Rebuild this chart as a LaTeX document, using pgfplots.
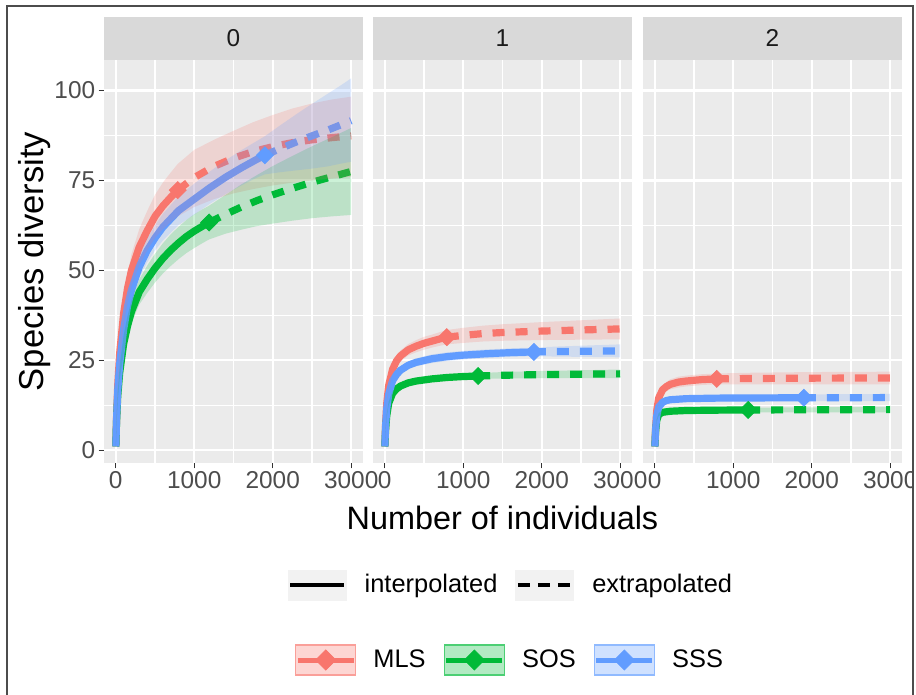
\documentclass[border=0pt]{standalone}
\usepackage{fontspec}
\setmainfont{Liberation Sans}
\usepackage{pgfplots}
\pgfplotsset{compat=1.18}
\definecolor{mls}{HTML}{F8766D}
\definecolor{sos}{HTML}{00BA38}
\definecolor{sss}{HTML}{619CFF}
\definecolor{g92}{HTML}{EBEBEB}
\definecolor{g85}{HTML}{D9D9D9}
\definecolor{g95}{HTML}{F2F2F2}
\definecolor{g30}{HTML}{4D4D4D}
\definecolor{g20}{HTML}{333333}
\definecolor{g10}{HTML}{1A1A1A}
\pgfplotsset{
  panel/.style={
    scale only axis, width=129.5pt, height=201.5pt, anchor=south west,
    xmin=-150, xmax=3150, ymin=-3.6, ymax=108.5,
    axis background/.style={fill=g92},
    axis line style={draw=none},
    xtick={0,1000,2000,3000}, ytick={0,25,50,75,100},
    minor xtick={500,1500,2500}, minor ytick={12.5,37.5,62.5,87.5},
    grid=both,
    major grid style={white, line width=1.1pt},
    minor grid style={white, line width=0.55pt},
    tick align=outside, tick pos=left,
    major tick length=2.7pt, minor tick length=0pt,
    tick style={g20, line width=0.55pt},
    /pgf/number format/assume math mode=true,
    /pgf/number format/1000 sep={},
    ticklabel style={font=\fontsize{12.2}{14}\selectfont, text=g30},
    xticklabel style={inner sep=1.5pt},
    yticklabel style={inner sep=1.5pt},
    every axis title/.style={at={(0.5,1)}, anchor=south, fill=g85,
      minimum width=129.5pt, minimum height=21.5pt, inner sep=0pt,
      text=g10, font=\fontsize{12.2}{14}\selectfont},
    every axis y label/.style={at={(0,0.5)}, xshift=-34.5pt, rotate=90, anchor=center,
      font=\fontsize{17.3}{20}\selectfont, text=black},
    every axis x label/.style={at={(0.5,0)}, anchor=center,
      yshift=-27.5pt, font=\fontsize{16.2}{19}\selectfont, text=black},
  },
  inner/.style={yticklabels={}, ytick style={draw=none}},
  ln/.style={line width=3.6pt, no marks, line join=round},
  ex/.style={line width=3.6pt, no marks, dash pattern=on 6pt off 5.5pt},
  rib/.style={fill=#1, fill opacity=0.2, draw=none},
  pt/.style={only marks, mark=square*, mark size=3pt, color=#1, mark options={rotate=45, fill=#1, draw=#1}},
}
\begin{document}
\begin{tikzpicture}
\useasboundingbox (0pt,0pt) rectangle (458pt,-347.5pt);
\begin{scope}
\clip (0pt,0pt) rectangle (456.5pt,-347.5pt);
% ---------------- panel q = 0
\begin{axis}[panel, at={(52pt,-231.5pt)}, title={0}, ylabel={Species diversity}]
\addplot[ln, mls] coordinates {(1,1)(10,9)(25,18)(50,27)(100,38)(150,45)(200,50)(300,56.5)(400,61)(500,65)(600,67.9)(700,70.3)(790,72.3)};
\addplot[ex, mls] coordinates {(790,72.3)(1000,75.8)(1250,78.9)(1500,81.2)(1750,83)(2000,84.4)(2250,85.5)(2500,86.3)(2750,86.9)(3000,87.4)};
\addplot[ln, sos] coordinates {(1,1)(10,8)(25,15)(50,21.5)(100,29.5)(150,34.5)(200,38.5)(300,44)(400,47.5)(500,50.6)(600,53.3)(700,55.6)(800,57.6)(900,59.4)(1000,60.9)(1100,62.2)(1190,63.3)};
\addplot[ex, sos] coordinates {(1190,63.3)(1400,65.6)(1600,67.6)(1800,69.4)(2000,71)(2250,72.8)(2500,74.5)(2750,76)(3000,77.5)};
\addplot[ln, sss] coordinates {(1,1)(10,8.5)(25,16.5)(50,24)(100,33.5)(150,40)(200,44.5)(300,51)(400,55.5)(500,59)(600,62)(800,66.6)(1000,69.8)(1200,73)(1400,75.9)(1600,78.5)(1800,80.9)(1900,82)};
\addplot[ex, sss] coordinates {(1900,82)(2100,83.9)(2300,85.7)(2500,87.4)(2700,89)(2850,90.3)(3000,91.6)};
\addplot[pt=mls] coordinates {(790,72.3)};
\addplot[pt=sos] coordinates {(1190,63.3)};
\addplot[pt=sss] coordinates {(1900,82)};
\addplot[rib=mls] coordinates {(1,1)(10,10)(25,19.7)(50,29.5)(100,41.5)(150,49)(200,54.5)(300,61.5)(400,66.5)(500,71)(600,74.4)(700,77.2)(790,79.6)(1000,83.5)(1250,86.3)(1500,88.8)(1750,91.2)(2000,93.2)(2250,95)(2500,96.4)(2750,97.5)(3000,98.3)
(3000,76)(2750,75.5)(2500,75)(2250,74.4)(2000,73.6)(1750,72.6)(1500,71.4)(1250,69.8)(1000,67.6)(790,65)(700,63.4)(600,61.4)(500,59)(400,55.5)(300,51.5)(200,45.5)(150,41)(100,34.5)(50,24.5)(25,16.3)(10,8)} -- cycle;
\addplot[rib=sos] coordinates {(1,1)(10,8.7)(25,16.2)(50,23.4)(100,32)(150,37.3)(200,41.6)(300,47.5)(400,51.3)(500,54.6)(600,57.5)(700,60)(800,62.1)(900,64)(1000,65.6)(1100,66.9)(1190,68)(1400,71)(1600,73.9)(1800,76.5)(2000,79)(2250,81.8)(2500,84.5)(2750,87)(3000,89.6)
(3000,65.4)(2750,65)(2500,64.5)(2250,63.8)(2000,63)(1800,62.3)(1600,61.3)(1400,60.2)(1190,58.6)(1100,57.5)(1000,56.2)(900,54.8)(800,53.1)(700,51.2)(600,49.1)(500,46.6)(400,43.7)(300,40.5)(200,35.4)(150,31.7)(100,27)(50,19.6)(25,13.8)(10,7.3)} -- cycle;
\addplot[rib=sss] coordinates {(1,1)(10,9)(25,17.5)(50,25.5)(100,35.5)(150,42.4)(200,47.2)(300,54)(400,58.8)(500,62.5)(600,65.7)(800,70.6)(1000,74.1)(1200,77.5)(1400,80.6)(1600,83.4)(1800,86)(1900,87.3)(2100,90.4)(2300,93.4)(2500,96.3)(2700,99.1)(2850,101.2)(3000,103.4)
(3000,80.2)(2850,79.6)(2700,78.9)(2500,78.3)(2300,77.8)(2100,77.3)(1900,76.7)(1800,75.8)(1600,73.6)(1400,71.2)(1200,68.5)(1000,65.5)(800,62.6)(600,58.3)(500,55.5)(400,52.2)(300,48)(200,41.8)(150,37.6)(100,31.5)(50,22.5)(25,15.5)(10,8)} -- cycle;
\end{axis}
% ---------------- panel q = 1
\begin{axis}[panel, inner, at={(186.5pt,-231.5pt)}, title={1}, xlabel={Number of individuals}]
\addplot[ln, mls] coordinates {(1,1)(10,7)(25,13)(50,18)(100,22.5)(150,24.8)(200,26.2)(300,27.9)(400,28.9)(500,29.7)(600,30.3)(700,30.9)(790,31.4)};
\addplot[ex, mls] coordinates {(790,31.4)(1000,31.9)(1250,32.4)(1500,32.7)(2000,33.1)(2500,33.4)(3000,33.7)};
\addplot[ln, sos] coordinates {(1,1)(10,5.5)(25,9.5)(50,13)(100,15.8)(150,17)(200,17.8)(300,18.7)(400,19.2)(600,19.8)(800,20.2)(1000,20.45)(1190,20.6)};
\addplot[ex, sos] coordinates {(1190,20.6)(1500,20.8)(2000,21)(2500,21.1)(3000,21.2)};
\addplot[ln, sss] coordinates {(1,1)(10,6.5)(25,11.5)(50,15.5)(100,19.3)(150,21)(200,22.2)(300,23.6)(400,24.4)(600,25.4)(800,26)(1000,26.4)(1300,26.8)(1600,27.1)(1900,27.3)};
\addplot[ex, sss] coordinates {(1900,27.3)(2200,27.4)(2600,27.5)(3000,27.6)};
\addplot[pt=mls] coordinates {(790,31.4)};
\addplot[pt=sos] coordinates {(1190,20.6)};
\addplot[pt=sss] coordinates {(1900,27.3)};
\addplot[rib=mls] coordinates {(1,1)(10,7.4)(25,13.8)(50,19)(100,23.8)(150,26.2)(200,27.7)(300,29.5)(400,30.6)(500,31.5)(600,32.1)(700,32.8)(790,33.4)(1000,34)(1250,34.6)(1500,35)(2000,35.6)(2500,36.1)(3000,36.6)
(3000,30.8)(2500,30.7)(2000,30.6)(1500,30.4)(1250,30.2)(1000,29.8)(790,29.4)(700,29)(600,28.5)(500,27.9)(400,27.2)(300,26.3)(200,24.7)(150,23.4)(100,21.2)(50,17)(25,12.2)(10,6.6)} -- cycle;
\addplot[rib=sos] coordinates {(1,1)(10,5.7)(25,9.9)(50,13.5)(100,16.4)(150,17.6)(200,18.5)(300,19.4)(400,19.9)(600,20.5)(800,20.9)(1000,21.2)(1190,21.4)(1500,21.7)(2000,22)(2500,22.2)(3000,22.4)
(3000,20)(2500,20)(2000,20)(1500,19.9)(1190,19.8)(1000,19.7)(800,19.5)(600,19.1)(400,18.5)(300,18)(200,17.1)(150,16.4)(100,15.2)(50,12.5)(25,9.1)(10,5.3)} -- cycle;
\addplot[rib=sss] coordinates {(1,1)(10,6.8)(25,12)(50,16.2)(100,20.1)(150,21.9)(200,23.2)(300,24.7)(400,25.5)(600,26.6)(800,27.2)(1000,27.6)(1300,28)(1600,28.3)(1900,28.5)(2200,28.8)(2600,29.1)(3000,29.4)
(3000,25.8)(2600,25.9)(2200,26)(1900,26.1)(1600,25.9)(1300,25.6)(1000,25.2)(800,24.8)(600,24.2)(400,23.3)(300,22.5)(200,21.2)(150,20.1)(100,18.5)(50,14.8)(25,11)(10,6.2)} -- cycle;
\end{axis}
% ---------------- panel q = 2
\begin{axis}[panel, inner, at={(321.5pt,-231.5pt)}, title={2}]
\addplot[ln, mls] coordinates {(1,1)(10,6)(25,11)(50,14.5)(100,16.8)(150,17.7)(200,18.3)(300,18.9)(400,19.2)(600,19.6)(790,19.8)};
\addplot[ex, mls] coordinates {(790,19.8)(1200,19.9)(2000,20)(3000,20.05)};
\addplot[ln, sos] coordinates {(1,1)(10,5)(25,8.2)(50,9.9)(100,10.5)(200,10.8)(400,11)(800,11.1)(1190,11.15)};
\addplot[ex, sos] coordinates {(1190,11.15)(2000,11.2)(3000,11.25)};
\addplot[ln, sss] coordinates {(1,1)(10,5.5)(25,9.5)(50,12)(100,13.3)(150,13.8)(200,14)(400,14.3)(800,14.45)(1300,14.5)(1900,14.55)};
\addplot[ex, sss] coordinates {(1900,14.55)(2500,14.57)(3000,14.6)};
\addplot[pt=mls] coordinates {(790,19.8)};
\addplot[pt=sos] coordinates {(1190,11.15)};
\addplot[pt=sss] coordinates {(1900,14.55)};
\addplot[rib=mls] coordinates {(1,1)(10,6.3)(25,11.6)(50,15.4)(100,17.9)(150,19)(200,19.7)(300,20.4)(400,20.7)(600,21.1)(790,21.3)(1200,21.5)(2000,21.7)(3000,21.8)
(3000,18.3)(2000,18.3)(1200,18.3)(790,18.3)(600,18.1)(400,17.7)(300,17.4)(200,16.9)(150,16.4)(100,15.7)(50,13.6)(25,10.4)(10,5.7)} -- cycle;
\addplot[rib=sos] coordinates {(1,1)(10,5.15)(25,8.5)(50,10.3)(100,11)(200,11.3)(400,11.6)(800,11.7)(1190,11.8)(2000,11.9)(3000,12)
(3000,10.5)(2000,10.5)(1190,10.5)(800,10.5)(400,10.4)(200,10.3)(100,10)(50,9.5)(25,7.9)(10,4.85)} -- cycle;
\addplot[rib=sss] coordinates {(1,1)(10,5.7)(25,9.9)(50,12.5)(100,13.9)(150,14.5)(200,14.7)(400,15.1)(800,15.3)(1300,15.4)(1900,15.5)(2500,15.55)(3000,15.6)
(3000,13.6)(2500,13.6)(1900,13.6)(1300,13.6)(800,13.6)(400,13.5)(200,13.3)(150,13.1)(100,12.7)(50,11.5)(25,9.1)(10,5.3)} -- cycle;
\end{axis}
% ---------------- legend: line types
\begin{axis}[hide axis, scale only axis, width=1pt, height=1pt, xmin=0, xmax=1, ymin=0, ymax=1,
  anchor=center, at={(255pt,-292.5pt)},
  legend columns=2,
  legend style={at={(0.5,0.5)}, anchor=center, draw=none, fill=none,
    font=\fontsize{12.7}{15}\selectfont, text=black,
    nodes={inner sep=0pt},
    /tikz/every odd column/.append style={column sep=9pt},
    /tikz/every even column/.append style={column sep=9pt}}]
\addlegendimage{legend image code/.code={\fill[g95] (0pt,-7.5pt) rectangle (29pt,7.5pt); \draw[black, line width=2pt, solid] (1pt,0pt) -- (28pt,0pt);}}
\addlegendentry{interpolated}
\addlegendimage{legend image code/.code={\fill[g95] (0pt,-7.5pt) rectangle (29pt,7.5pt); \draw[black, line width=2pt, dash pattern=on 6pt off 4pt] (1pt,0pt) -- (28pt,0pt);}}
\addlegendentry{extrapolated}
\end{axis}
% ---------------- legend: groups
\begin{axis}[hide axis, scale only axis, width=1pt, height=1pt, xmin=0, xmax=1, ymin=0, ymax=1,
  anchor=center, at={(254.5pt,-330pt)},
  legend columns=3,
  legend style={at={(0.5,0.5)}, anchor=center, draw=none, fill=none,
    font=\fontsize{12.7}{15}\selectfont, text=black,
    nodes={inner sep=0pt},
    /tikz/every odd column/.append style={column sep=8.5pt},
    /tikz/every even column/.append style={column sep=9pt}}]
\addlegendimage{legend image code/.code={\draw[draw=mls!70, line width=0.7pt, solid, fill=mls, fill opacity=0.3] (0pt,-7.5pt) rectangle (30pt,7.5pt); \draw[mls, line width=2.5pt, solid] (1pt,0pt) -- (29pt,0pt); \fill[mls] (15pt,5pt) -- (20pt,0pt) -- (15pt,-5pt) -- (10pt,0pt) -- cycle;}}
\addlegendentry{MLS}
\addlegendimage{legend image code/.code={\draw[draw=sos!70, line width=0.7pt, solid, fill=sos, fill opacity=0.3] (0pt,-7.5pt) rectangle (30pt,7.5pt); \draw[sos, line width=2.5pt, solid] (1pt,0pt) -- (29pt,0pt); \fill[sos] (15pt,5pt) -- (20pt,0pt) -- (15pt,-5pt) -- (10pt,0pt) -- cycle;}}
\addlegendentry{SOS}
\addlegendimage{legend image code/.code={\draw[draw=sss!70, line width=0.7pt, solid, fill=sss, fill opacity=0.3] (0pt,-7.5pt) rectangle (30pt,7.5pt); \draw[sss, line width=2.5pt, solid] (1pt,0pt) -- (29pt,0pt); \fill[sss] (15pt,5pt) -- (20pt,0pt) -- (15pt,-5pt) -- (10pt,0pt) -- cycle;}}
\addlegendentry{SSS}
\end{axis}
\end{scope}
\draw[color=black!70, line width=1pt] (3.5pt,-348pt) -- (3.5pt,-3pt) -- (456.5pt,-3pt) -- (456.5pt,-348pt);
\end{tikzpicture}
\end{document}
